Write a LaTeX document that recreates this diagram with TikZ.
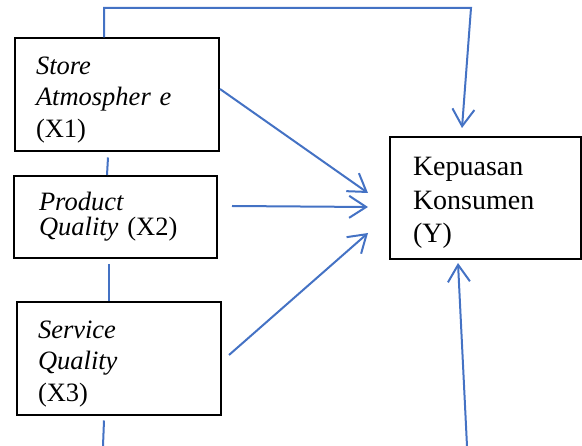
\documentclass[tikz,border=0pt]{standalone}
\usepackage{fontspec}
\setmainfont{Liberation Serif}
\usetikzlibrary{arrows.meta}
\definecolor{linkblue}{HTML}{4472C4}
\newcommand{\topstrut}{\rule{0pt}{27pt}}
\begin{document}
\begin{tikzpicture}[x=1pt,y=-1pt,
  varbox/.style={draw=black,line width=2pt,rectangle,align=left,anchor=north west,
    inner ysep=0pt,font=\fontsize{26.5}{31.5}\selectfont},
  link/.style={draw=linkblue,line width=2pt},
  arr/.style={link,-{Straight Barb[length=17pt,width=22pt,line width=2pt]}}]
\useasboundingbox (0,0) rectangle (582,446);
% boxes
\node[varbox,text width=162pt,inner xsep=21pt,minimum height=113pt] (b1) at (14,37.5)
  {\topstrut\textit{Store}\\\textit{Atmospher e}\\(X1)};
\node[varbox,text width=153pt,inner xsep=25pt,minimum height=82pt,
  font=\fontsize{26.5}{25}\selectfont] (b2) at (13,175)
  {\textit{Product}\\\textit{Quality} (X2)};
\node[varbox,text width=162pt,inner xsep=21pt,minimum height=113pt] (b3) at (16,301.5)
  {\topstrut\textit{Service}\\\textit{Quality}\\(X3)};
\node[varbox,text width=145pt,inner xsep=23pt,minimum height=122pt,
  font=\fontsize{28}{33.5}\selectfont] (y) at (389,136)
  {\rule{0pt}{28pt}Kepuasan\\Konsumen\\(Y)};
% free ends
\coordinate (t1) at (471,8);
\coordinate (t2) at (462,128);
\coordinate (u1) at (467,446);
\coordinate (u2) at (458,263);
\coordinate (a1) at (368,193);
\coordinate (a2s) at (232,206);
\coordinate (a2) at (368,207);
\coordinate (a3s) at (229,355);
\coordinate (a3) at (368,233);
\coordinate (d1) at (103,446);
% connectors
\draw[arr] ([xshift=-13pt]b1.north) |- (t1) -- (t2);
\draw[link] ([xshift=-9pt,yshift=-5pt]b1.south) -- ([xshift=-8.5pt]b2.north);
\draw[link] ([xshift=-6.5pt,yshift=-5pt]b2.south) -- ([xshift=-10pt]b3.north);
\draw[link] ([xshift=-15pt,yshift=-4pt]b3.south) -- (d1);
\draw[arr] ([yshift=6pt]b1.east) -- (a1);
\draw[arr] (a2s) -- (a2);
\draw[arr] (a3s) -- (a3);
\draw[arr] (u1) -- (u2);
\end{tikzpicture}
\end{document}
